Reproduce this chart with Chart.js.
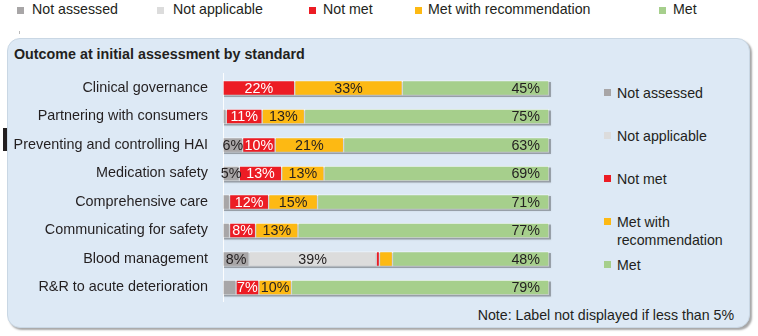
<!DOCTYPE html>
<html>
<head>
<meta charset="utf-8">
<script src="https://cdn.jsdelivr.net/npm/chart.js@4/dist/chart.umd.min.js"></script>
<style>
  html, body { margin: 0; padding: 0; background: #fff; }
  body { width: 758px; height: 336px; position: relative; overflow: hidden; font-family: "Liberation Sans", Arial, sans-serif; color: #231f20; }
  .panel { position: absolute; left: 7px; top: 38px; width: 741px; height: 288px; background: #dde9f5; border: 1px solid #c9d7e4; border-radius: 13px; box-shadow: 2px 2px 2px rgba(0,0,0,0.35); }
  .title { position: absolute; left: 14px; top: 46px; font-weight: bold; font-size: 14.3px; }
  .toplegend span.item { position: absolute; top: 1px; font-size: 14.2px; white-space: nowrap; }
  .sq { position: absolute; width: 7px; height: 7px; }
  .rlegend { position: absolute; font-size: 14.2px; line-height: 18px; white-space: nowrap; }
  .note { position: absolute; right: 24px; top: 307px; font-size: 14.2px; white-space: nowrap; }
  canvas { position: absolute; left: 0; top: 0; }
</style>
</head>
<body>
<div class="toplegend" id="topLegend"></div>
<div style="position:absolute;left:19px;top:31px;width:1px;height:3px;background:#bbb"></div>
<div class="panel"></div>
<div style="position:absolute;left:3px;top:128px;width:4px;height:23px;background:#231f20"></div>
<div class="title">Outcome at initial assessment by standard</div>
<div id="rightLegend"></div>
<div class="note">Note: Label not displayed if less than 5%</div>
<canvas id="chart" width="758" height="336"></canvas>
<script>
const standards = [
  'Clinical governance',
  'Partnering with consumers',
  'Preventing and controlling HAI',
  'Medication safety',
  'Comprehensive care',
  'Communicating for safety',
  'Blood management',
  'R&R to acute deterioration'
];
const seriesNames = ['Not assessed', 'Not applicable', 'Not met', 'Met with recommendation', 'Met'];
const notAssessed   = [0, 1, 6, 5, 2, 2, 8, 4];
const notApplicable = [0, 0, 0, 0, 0, 0, 39, 0];
const notMet        = [22, 11, 10, 13, 12, 8, 1, 7];
const metWithRec    = [33, 13, 21, 13, 15, 13, 4, 10];
const met           = [45, 75, 63, 69, 71, 77, 48, 79];

const colors = ['#a8a6a7', '#dcdcdc', '#ec1c24', '#fdb913', '#a6cf8c'];
const labelColors = ['#231f20', '#231f20', '#ffffff', '#231f20', '#231f20'];
const FONT = '"Liberation Sans", Arial, sans-serif';

// top legend
const topLegend = document.getElementById('topLegend');
const topPos = [[17, 32], [157, 173], [309, 323], [415, 428], [659, 673]];
seriesNames.forEach((n, i) => {
  const sq = document.createElement('div');
  sq.className = 'sq';
  sq.style.cssText = `left:${topPos[i][0]}px;top:7px;background:${colors[i]}`;
  topLegend.appendChild(sq);
  const t = document.createElement('span');
  t.className = 'item';
  t.style.left = topPos[i][1] + 'px';
  t.textContent = n;
  topLegend.appendChild(t);
});

// right legend
const rightLegend = document.getElementById('rightLegend');
const rightY = [84, 127, 170, 213, 256];
const rightText = ['Not assessed', 'Not applicable', 'Not met', 'Met with<br>recommendation', 'Met'];
rightText.forEach((n, i) => {
  const sq = document.createElement('div');
  sq.className = 'sq';
  sq.style.cssText = `left:604px;top:${rightY[i] + 5}px;background:${colors[i]}`;
  rightLegend.appendChild(sq);
  const t = document.createElement('div');
  t.className = 'rlegend';
  t.style.left = '617px';
  t.style.top = rightY[i] + 'px';
  t.innerHTML = n;
  rightLegend.appendChild(t);
});

const barShadow = {
  id: 'barShadow',
  beforeDatasetsDraw(chart) {
    const { ctx, scales: { x, y } } = chart;
    ctx.save();
    ctx.fillStyle = 'rgba(0,0,0,0.28)';
    ctx.shadowColor = 'rgba(0,0,0,0.3)';
    ctx.shadowBlur = 2;
    standards.forEach((s, i) => {
      const cy = y.getPixelForValue(i);
      const x0 = x.getPixelForValue(0), x1 = x.getPixelForValue(100);
      ctx.fillRect(x0 + 1, cy - 7.5 + 1.5, x1 - x0 + 1, 15);
    });
    ctx.restore();
  }
};

const segLabels = {
  id: 'segLabels',
  afterDatasetsDraw(chart) {
    const { ctx } = chart;
    ctx.save();
    ctx.font = `14.3px ${FONT}`;
    ctx.textBaseline = 'middle';
    chart.data.datasets.forEach((ds, di) => {
      const meta = chart.getDatasetMeta(di);
      meta.data.forEach((bar, i) => {
        const v = ds.data[i];
        if (v < 5) return;
        ctx.fillStyle = labelColors[di];
        if (di === 4) {
          ctx.textAlign = 'right';
          ctx.fillText(v + '%', bar.x - 9, bar.y + 1);
        } else {
          ctx.textAlign = 'center';
          ctx.fillText(v + '%', (bar.base + bar.x) / 2, bar.y + 1);
        }
      });
    });
    ctx.restore();
  }
};

const seriesData = [notAssessed, notApplicable, notMet, metWithRec, met];

new Chart(document.getElementById('chart'), {
  type: 'bar',
  data: {
    labels: standards,
    datasets: seriesData.map((d, i) => ({
      label: seriesNames[i],
      data: d,
      backgroundColor: colors[i],
      borderColor: 'rgba(255,255,255,0.5)',
      borderWidth: 1,
      borderSkipped: false,
      barThickness: 15
    }))
  },
  options: {
    indexAxis: 'y',
    responsive: false,
    animation: false,
    layout: { padding: { left: 0, right: 209, top: 73.75, bottom: 34.25 } },
    plugins: { legend: { display: false }, tooltip: { enabled: false } },
    scales: {
      x: { stacked: true, min: 0, max: 100, display: false },
      y: {
        stacked: true,
        grid: { display: false },
        border: { display: true, color: 'rgba(255,255,255,0.9)', width: 1 },
        ticks: { color: '#231f20', padding: 7, font: { family: FONT, size: 14.4 } },
        afterFit(scale) { scale.width = 223; }
      }
    }
  },
  plugins: [barShadow, segLabels]
});
</script>
</body>
</html>
